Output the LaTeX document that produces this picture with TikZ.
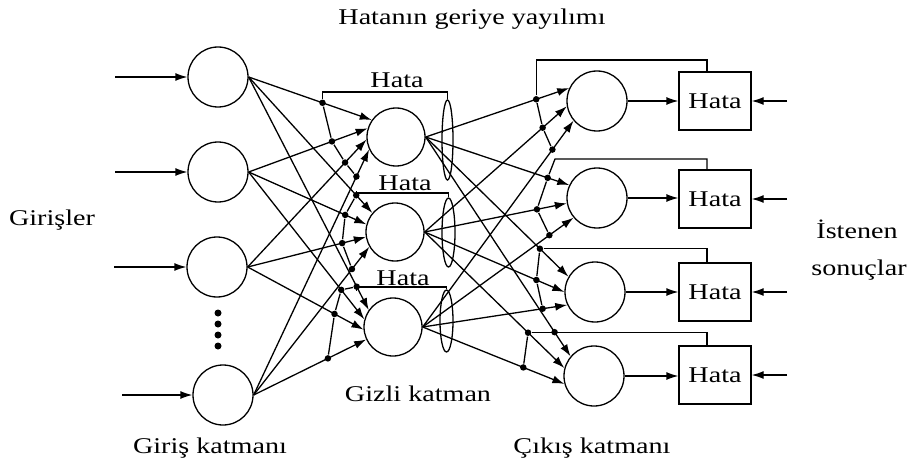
\documentclass[tikz,border=0pt]{standalone}
\usepackage{fontspec}
\setmainfont{Liberation Serif}[FakeStretch=1.25]
\usetikzlibrary{arrows.meta,shapes.geometric,calc}
\begin{document}
\begin{tikzpicture}[x=1pt,y=-1pt,
  every node/.style={font=\fontsize{22.5}{27}\selectfont},
  neuron/.style={draw,circle,minimum size=60pt,inner sep=0pt,line width=1.3pt},
  hneuron/.style={neuron,minimum size=58pt},
  errbox/.style={draw,rectangle,minimum width=72pt,minimum height=58pt,inner sep=0pt,line width=1.3pt},
  conn/.style={line width=1.3pt,-{Latex[length=12pt,width=8pt]}},
  wire/.style={line width=1.3pt},
  jdot/.style={circle,fill,inner sep=0pt,minimum size=6.5pt},
  lbl/.style={inner sep=0pt},
  ell/.style={draw,ellipse,inner sep=0pt,line width=1.3pt}
]
\useasboundingbox (0,0) rectangle (913,468);

% input layer
\node[neuron] (i1) at (218,77) {};
\node[neuron] (i2) at (218,172) {};
\node[neuron] (i3) at (217,267) {};
\node[neuron] (i4) at (223,395) {};
\foreach \yy/\nm in {313/v1,324/v2,335/v3,346/v4}
  \node[jdot,minimum size=7pt] (\nm) at (218,\yy) {};

% hidden layer
\node[hneuron] (h1) at (396,137) {};
\node[hneuron] (h2) at (395,232) {};
\node[hneuron] (h3) at (393,327) {};

% output layer
\node[neuron] (o1) at (597,101) {};
\node[neuron] (o2) at (597,198) {};
\node[neuron] (o3) at (595,292) {};
\node[neuron] (o4) at (594,376) {};

% error boxes
\node[errbox] (b1) at (715,101) {Hata};
\node[errbox] (b2) at (715,199) {Hata};
\node[errbox] (b3) at (715,292) {Hata};
\node[errbox] (b4) at (715,375) {Hata};

% ellipses around hidden outputs
\node[ell,minimum width=11pt,minimum height=80pt] (e1) at (447.5,140) {};
\node[ell,minimum width=13pt,minimum height=69pt] (e2) at (448.5,232.5) {};
\node[ell,minimum width=13pt,minimum height=62pt] (e3) at (446.5,321) {};

% input arrows
\coordinate (s1) at (115,77);
\coordinate (s2) at (115,172);
\coordinate (s3) at (114,267);
\coordinate (s4) at (122,395);
\draw[conn] (s1) -- (i1.west);
\draw[conn] (s2) -- (i2.west);
\draw[conn] (s3) -- (i3.west);
\draw[conn] (s4) -- (i4.west);

% input -> hidden
\draw[conn] (i1.east) -- (h1.145) node[jdot,pos=0.6] (dh11) {};
\draw[conn] (i2.east) -- (h1.163) node[jdot,pos=0.7] (dh12) {};
\draw[conn] (i3.east) -- (h1.185) node[jdot,pos=0.82] (dh13) {};
\draw[conn] (i4.east) -- (h1.205) node[jdot,pos=0.89] (dh14) {};

\draw[conn] (i1.east) -- (h2.140) node[jdot,pos=0.87] (dh21) {};
\draw[conn] (i2.east) -- (h2.165) node[jdot,pos=0.82] (dh22) {};
\draw[conn] (i3.east) -- (h2.190) node[jdot,pos=0.8] (dh23) {};
\draw[conn] (i4.east) -- (h2.210) node[jdot,pos=0.85] (dh24) {};

\draw[conn] (i1.east) -- (h3.145) node[jdot,pos=0.9] (dh31) {};
\draw[conn] (i2.east) -- (h3.165) node[jdot,pos=0.8] (dh32) {};
\draw[conn] (i3.east) -- (h3.185) node[jdot,pos=0.75] (dh33) {};
\draw[conn] (i4.east) -- (h3.205) node[jdot,pos=0.66] (dh34) {};

% hidden -> output
\draw[conn] (h1.east) -- (o1.155) node[jdot,pos=0.77] (do11) {};
\draw[conn] (h2.east) -- (o1.190) node[jdot,pos=0.83] (do12) {};
\draw[conn] (h3.east) -- (o1.220) node[jdot,pos=0.86] (do13) {};
\draw[conn] (h1.east) -- (o2.155) node[jdot,pos=0.85] (do21) {};
\draw[conn] (h2.east) -- (o2.190) node[jdot,pos=0.79] (do22) {};
\draw[conn] (h3.east) -- (o2.220) node[jdot,pos=0.84] (do23) {};
\draw[conn] (h1.east) -- (o3.150) node[jdot,pos=0.8] (do31) {};
\draw[conn] (h2.east) -- (o3.180) node[jdot,pos=0.8] (do32) {};
\draw[conn] (h3.east) -- (o3.205) node[jdot,pos=0.83] (do33) {};
\draw[conn] (h1.east) -- (o4.140) node[jdot,pos=0.89] (do41) {};
\draw[conn] (h2.east) -- (o4.165) node[jdot,pos=0.74] (do42) {};
\draw[conn] (h3.east) -- (o4.195) node[jdot,pos=0.71] (do43) {};

% hidden error brackets
\draw[wire] (dh11) -- (dh11 |- 0,92) -| (e1.north);
\draw[wire] (dh11) -- (dh12) -- (dh13) -- (dh14);
\draw[wire] (dh21) -- (dh21 |- 0,193) -| (e2.north);
\draw[wire] (dh21) -- (dh22) -- (dh23) -- (dh24);
\draw[wire] (dh31) -- (dh31 |- 0,287) -| (e3.north);
\draw[wire] (dh31) -- (dh32) -- (dh33) -- (dh34);

% output error brackets
\draw[wire] (do11) -- (do11 |- 0,60) -| ([xshift=-8pt]b1.north);
\draw[wire] (do11) -- (do12) -- (do13);
\coordinate (c2) at (555,159);
\draw[wire] (do21) -- (c2) -| ([xshift=-8pt]b2.north);
\draw[wire] (do21) -- (do22) -- (do23);
\draw[wire] (do31) -| ([xshift=-8pt]b3.north);
\draw[wire] (do31) -- (do32) -- (do33);
\draw[wire] (do42) -| ([xshift=-8pt]b4.north);
\draw[wire] (do42) -- (do43);

% output -> error boxes
\draw[conn] (o1.east) -- (o1.east -| b1.west);
\draw[conn] (o2.east) -- (o2.east -| b2.west);
\draw[conn] (o3.east) -- (o3.east -| b3.west);
\draw[conn] (o4.east) -- (o4.east -| b4.west);

% desired outputs
\coordinate (t1) at (787,101);
\coordinate (t2) at (787,199);
\coordinate (t3) at (787,292);
\coordinate (t4) at (787,375);
\draw[conn] (t1) -- (b1.east);
\draw[conn] (t2) -- (b2.east);
\draw[conn] (t3) -- (b3.east);
\draw[conn] (t4) -- (b4.east);

% labels
\node[lbl,anchor=base] (title) at (472,25) {Hatanın geriye yayılımı};
\node[lbl,anchor=base] (hl1) at (397,88) {Hata};
\node[lbl,anchor=base] (hl2) at (405,190) {Hata};
\node[lbl,anchor=base] (hl3) at (403,285) {Hata};
\node[lbl,anchor=base] (gir) at (52,225) {Girişler};
\node[lbl,anchor=base] (gk) at (210,453) {Giriş katmanı};
\node[lbl,anchor=base] (gz) at (418,401) {Gizli katman};
\node[lbl,anchor=base] (ck) at (592,453) {Çıkış katmanı};
\node[lbl,anchor=base] (ist) at (857,238) {İstenen};
\node[lbl,anchor=base] (son) at (859,275) {sonuçlar};
\end{tikzpicture}
\end{document}
